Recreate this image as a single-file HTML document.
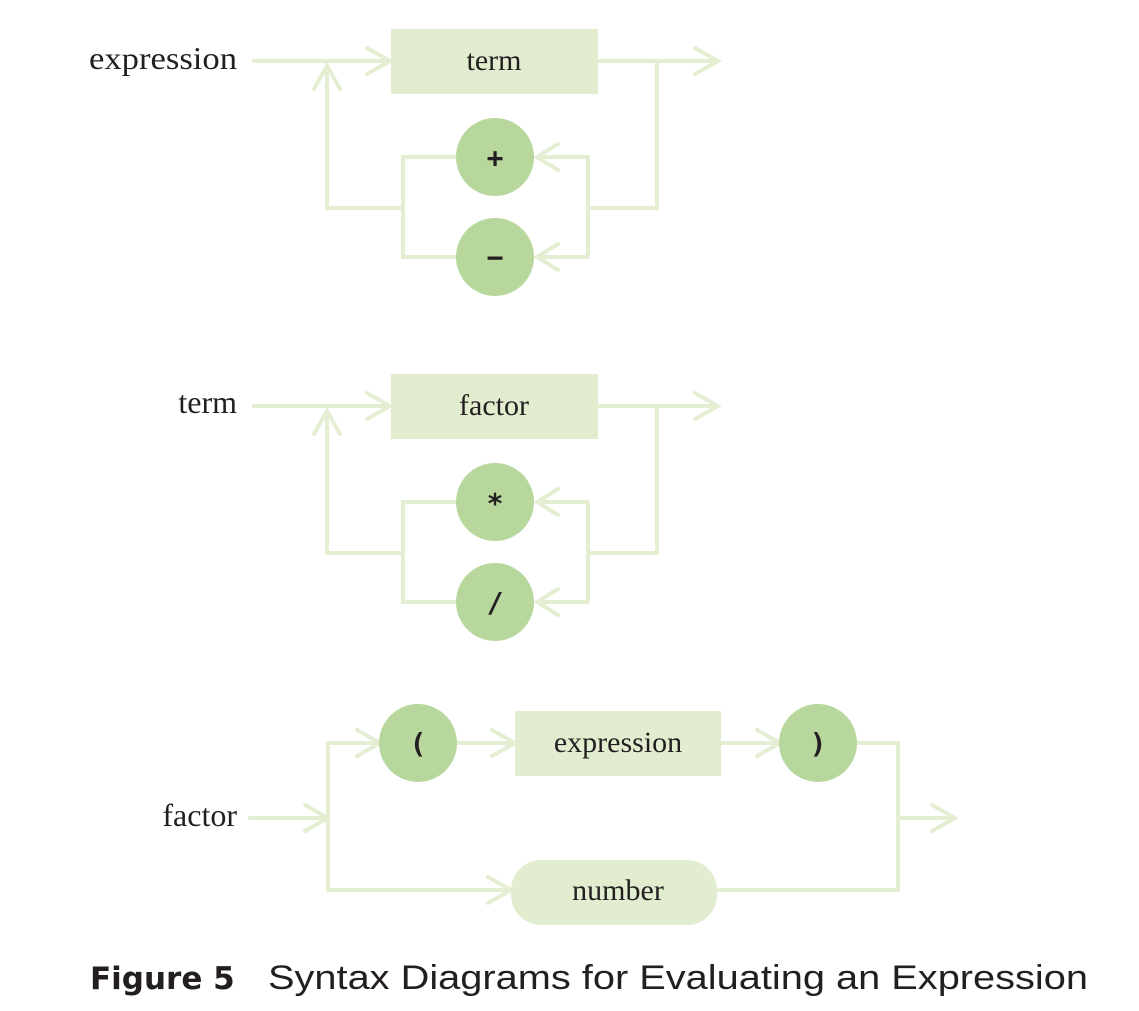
<!DOCTYPE html>
<html><head><meta charset="utf-8"><style>
body{margin:0;background:#fff;width:1139px;height:1011px;overflow:hidden}
svg{display:block}
.l{fill:none;stroke:#e3eed2;stroke-width:4;stroke-linecap:round;stroke-linejoin:miter}
.s{font-family:"Liberation Serif",serif;font-size:30px;fill:#231f20}
.b{font-family:"Liberation Serif",serif;font-size:32px;fill:#231f20}
.m{font-family:"DejaVu Sans Mono","Liberation Mono",monospace;font-size:28px;fill:#231f20;font-weight:bold}
</style></head><body>
<svg width="1139" height="1011" viewBox="0 0 1139 1011">
<defs>
<g id="loop">
  <rect x="391" y="29" width="207" height="65" fill="#e2edd0"/>
  <path class="l" d="M254 61H391M367 48L390 61L367 74"/>
  <path class="l" d="M598 61H718M695 48L718 61L695 74"/>
  <path class="l" d="M657 61V208H588M588 157V257"/>
  <path class="l" d="M588 157H537M558 144L537 157L558 170M588 257H537M558 244L537 257L558 270"/>
  <path class="l" d="M456 157H403V257H456M403 208H327V66M314 89L327 66L340 89"/>
  <circle cx="495" cy="157" r="39" fill="#b8d79c"/>
  <circle cx="495" cy="257" r="39" fill="#b8d79c"/>
</g>
</defs>
<use href="#loop"/>
<text class="b" x="237" y="69" text-anchor="end" textLength="148" lengthAdjust="spacingAndGlyphs">expression</text>
<text class="s" x="494" y="70" text-anchor="middle">term</text>
<text class="m" x="495" y="167" text-anchor="middle">+</text>
<text class="m" x="495" y="267" text-anchor="middle">−</text>
<g transform="translate(0,345)"><use href="#loop"/></g>
<text class="b" x="237" y="413" text-anchor="end">term</text>
<text class="s" x="494" y="415" text-anchor="middle">factor</text>
<text class="m" x="495" y="513" text-anchor="middle">*</text>
<text class="m" x="495" y="612" text-anchor="middle">/</text>
<!-- factor -->
<path class="l" d="M250 818H328M305 805L328 818L305 831"/>
<path class="l" d="M328 743V890H511M488 877L511 890L488 903"/>
<path class="l" d="M328 743H380M357 730L380 743L357 756"/>
<path class="l" d="M457 743H515M492 730L515 743L492 756"/>
<path class="l" d="M721 743H780M757 730L780 743L757 756"/>
<path class="l" d="M857 743H898V890H717M898 818H955M932 805L955 818L932 831"/>
<circle cx="418" cy="743" r="39" fill="#b8d79c"/>
<circle cx="818" cy="743" r="39" fill="#b8d79c"/>
<rect x="515" y="711" width="206" height="65" fill="#e2edd0"/>
<rect x="511" y="860" width="206" height="65" rx="30" fill="#e2edd0"/>
<text class="m" x="418" y="753" text-anchor="middle">(</text>
<text class="m" x="818" y="753" text-anchor="middle">)</text>
<text class="s" x="618" y="752" text-anchor="middle">expression</text>
<text class="s" x="618" y="900" text-anchor="middle">number</text>
<text class="b" x="237" y="826" text-anchor="end">factor</text>
<text x="90" y="989" font-family="'DejaVu Sans','Liberation Sans',sans-serif" font-weight="bold" font-size="31" fill="#231f20">Figure 5</text>
<text x="268" y="989" font-family="'Liberation Sans',sans-serif" font-size="34" fill="#231f20" textLength="820" lengthAdjust="spacingAndGlyphs">Syntax Diagrams for Evaluating an Expression</text>
</svg>
</body></html>
